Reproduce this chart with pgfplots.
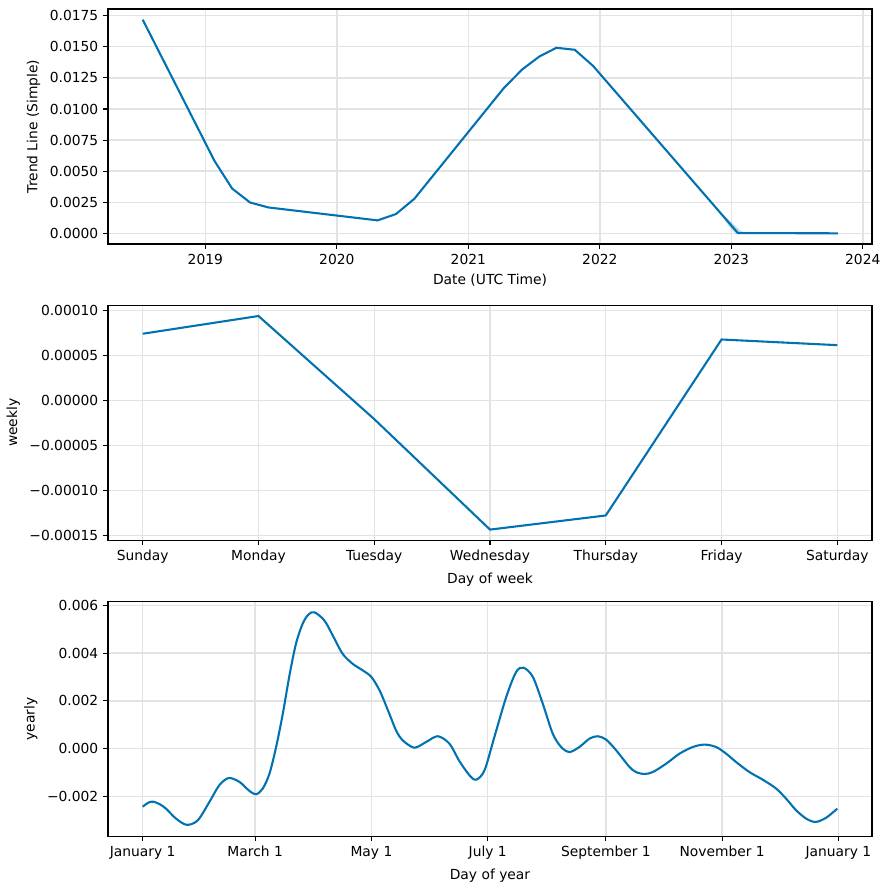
\documentclass[border=0pt]{standalone}
\usepackage{fontspec}
\setmainfont{DejaVu Sans}
\usepackage{pgfplots}
\pgfplotsset{compat=1.18}
\definecolor{pblue}{HTML}{0072B2}
\definecolor{gridc}{HTML}{E3E3E3}
\pgfplotsset{
  prophet/.style={
    scale only axis, width=7.64in, height=2.35in,
    axis line style={line width=0.8bp, black},
    tick align=outside, tick pos=left,
    major tick length=3.5bp,
    every tick/.style={black, line width=0.8bp},
    grid=major, grid style={color=gridc, line width=1bp},
    scaled ticks=false,
    /pgf/number format/assume math mode=true,
    ticklabel style={font=\fontsize{10}{12}\selectfont},
    label style={font=\fontsize{10}{12}\selectfont},
  }
}
\begin{document}
\begin{tikzpicture}
\useasboundingbox (0,0) rectangle (8.89in,-8.89in);
% ---------------- trend
\begin{axis}[prophet, at={(1.08in,-0.09in)}, anchor=north west,
  xmin=2018.26, xmax=2024.07, ymin=-0.00086, ymax=0.01804,
  xtick={2019,2020,2021,2022,2023,2024},
  xticklabels={2019,2020,2021,2022,2023,2024},
  ytick={0,0.0025,0.005,0.0075,0.01,0.0125,0.015,0.0175},
  yticklabels={0.0000,0.0025,0.0050,0.0075,0.0100,0.0125,0.0150,0.0175},
  xlabel={Date (UTC Time)}, ylabel={Trend Line (Simple)}]
\addplot[fill=pblue, fill opacity=0.25, draw=none] coordinates {
(2022.90,0.00180) (2022.96,0.00130) (2023.02,0.00070) (2023.07,0.00020) (2023.12,0.0)
(2023.03,0.0) (2022.98,0.00060) (2022.94,0.00120) (2022.90,0.00178)} -- cycle;
\addplot[pblue, line width=1.5bp] coordinates {
(2018.524,0.01718) (2019.07,0.00582) (2019.204,0.00360) (2019.34,0.00248)
(2019.48,0.00208) (2020.31,0.00104) (2020.45,0.00155) (2020.59,0.00278)
(2021.27,0.01168) (2021.41,0.01318) (2021.54,0.01422) (2021.67,0.01492)
(2021.81,0.01476) (2021.95,0.01345) (2023.05,0.00002) (2023.81,0.00000)};
\end{axis}
% ---------------- weekly
\begin{axis}[prophet, at={(1.08in,-3.053in)}, anchor=north west,
  xmin=-0.3, xmax=6.3, ymin=-0.0001556, ymax=0.0001056,
  xtick={0,1,2,3,4,5,6},
  xticklabels={Sunday,Monday,Tuesday,Wednesday,Thursday,Friday,Saturday},
  ytick={-0.00015,-0.0001,-0.00005,0,0.00005,0.0001},
  yticklabels={−0.00015,−0.00010,−0.00005,0.00000,0.00005,0.00010},
  xlabel={Day of week}, ylabel={weekly}]
\addplot[pblue, line width=1.5bp] coordinates {
(0,0.0000740) (1,0.0000937) (2,-0.0000209) (3,-0.0001437)
(4,-0.0001280) (5,0.0000676) (6,0.0000613)};
\end{axis}
% ---------------- yearly
\begin{axis}[prophet, at={(1.08in,-6.013in)}, anchor=north west,
  xmin=-18.2, xmax=382.6, ymin=-0.00367, ymax=0.00617,
  xtick={0,59,120,181,243,304,365},
  xticklabels={January 1,March 1,May 1,July 1,September 1,November 1,January 1},
  ytick={-0.002,0,0.002,0.004,0.006},
  yticklabels={−0.002,0.000,0.002,0.004,0.006},
  xlabel={Day of year}, ylabel={yearly}]
\addplot[pblue, line width=1.5bp, smooth] coordinates {
(0,-0.00243) (3,-0.00226) (5.6,-0.00222) (9,-0.00233) (12.2,-0.00251)
(17.5,-0.00293) (23.1,-0.00319) (28.9,-0.00300) (35,-0.00223) (40.2,-0.00153)
(45.1,-0.00123) (50.7,-0.00139) (56,-0.00177) (59.5,-0.00191) (63,-0.00167)
(66.5,-0.00105) (70,0.00007) (73.5,0.00146) (77,0.00307) (80.4,0.00439)
(83.9,0.00523) (87,0.00562) (90.1,0.00571) (95.3,0.00537) (99.7,0.00474)
(104.9,0.00397) (110.2,0.00355) (115.4,0.00328) (120,0.00300) (124.5,0.00240)
(129.4,0.00146) (133,0.00075) (136.4,0.00035) (142.5,0.00004) (148.7,0.00028)
(154.8,0.00052) (160.9,0.00021) (166.2,-0.00053) (171.4,-0.00111) (174.9,-0.00130)
(179.3,-0.00091) (184.5,0.00049) (190.7,0.00216) (195.9,0.00321) (199.8,0.00339)
(204.7,0.00300) (209.9,0.00188) (215.1,0.00063) (219.5,0.00007) (223.9,-0.00014)
(229.1,0.00007) (234.4,0.00042) (238.7,0.00052) (243.1,0.00038) (248.4,-0.00007)
(255.2,-0.00075) (258.8,-0.00098) (263.2,-0.00106) (267.6,-0.00098) (274.6,-0.00063)
(281.6,-0.00021) (288.6,0.00007) (294.7,0.00017) (300.8,0.00007) (306.1,-0.00021)
(311.3,-0.00056) (318.3,-0.00098) (325.3,-0.00130) (332.3,-0.00167) (337.5,-0.00209)
(342.8,-0.00258) (348.1,-0.00293) (353,-0.00307) (358.6,-0.00289) (364.4,-0.00251)};
\end{axis}
\end{tikzpicture}
\end{document}
